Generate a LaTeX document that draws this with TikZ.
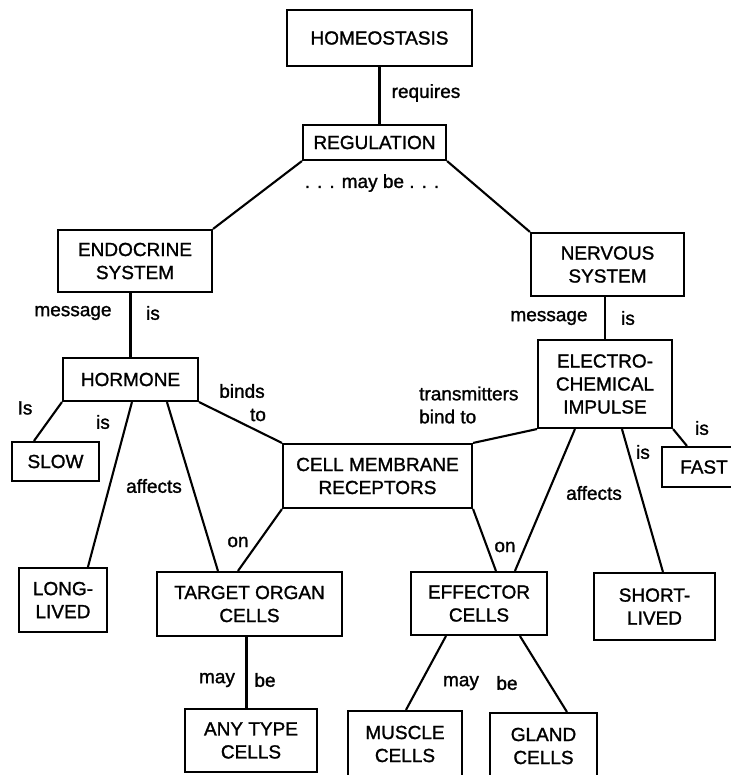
\documentclass[tikz,border=0pt]{standalone}
\usepackage{fontspec}
\newfontfamily\mapfont{Liberation Sans}[FakeBold=1.3]
\begin{document}
\begin{tikzpicture}[x=1pt,y=-1pt,
  concept/.style={draw, line width=2.1pt, inner sep=0pt, align=center,
    font=\mapfont\fontsize{19}{23}\selectfont},
  lbl/.style={inner sep=0pt, font=\mapfont\fontsize{19}{23}\selectfont},
  link/.style={line width=2.1pt}]
\useasboundingbox (0,0) rectangle (730,775);

% concept boxes
\node[concept, minimum width=185pt, minimum height=56pt] (homeo) at (379.5,38) {HOMEOSTASIS};
\node[concept, minimum width=143pt, minimum height=35pt] (reg) at (374.5,142.5) {REGULATION};
\node[concept, minimum width=154pt, minimum height=62pt] (endo) at (135,261) {ENDOCRINE\\SYSTEM};
\node[concept, minimum width=153pt, minimum height=63pt] (nerv) at (607.5,264.5) {NERVOUS\\SYSTEM};
\node[concept, minimum width=135pt, minimum height=43pt] (horm) at (130.5,379.5) {HORMONE};
\node[concept, minimum width=134pt, minimum height=88pt] (elec) at (605,384) {ELECTRO-\\CHEMICAL\\IMPULSE};
\node[concept, minimum width=87pt, minimum height=39pt] (slow) at (55.5,461.5) {SLOW};
\node[concept, minimum width=189pt, minimum height=64pt] (cell) at (377.5,476) {CELL MEMBRANE\\RECEPTORS};
\node[concept, minimum width=84pt, minimum height=40pt] (fast) at (704,467) {FAST};
\node[concept, minimum width=88pt, minimum height=64pt] (long) at (63,600) {LONG-\\LIVED};
\node[concept, minimum width=185pt, minimum height=64pt] (target) at (249.5,604) {TARGET ORGAN\\CELLS};
\node[concept, minimum width=136pt, minimum height=63pt] (effector) at (479,603.5) {EFFECTOR\\CELLS};
\node[concept, minimum width=121pt, minimum height=67pt] (short) at (654.5,606.5) {SHORT-\\LIVED};
\node[concept, minimum width=132pt, minimum height=63pt] (anytype) at (251,740.5) {ANY TYPE\\CELLS};
\node[concept, minimum width=114pt, minimum height=66pt] (muscle) at (405,744) {MUSCLE\\CELLS};
\node[concept, minimum width=107pt, minimum height=66pt] (gland) at (543.5,746) {GLAND\\CELLS};

% linking phrases
\node[lbl] (lreq) at (426,93) {requires};
\node[lbl] (lmay) at (372,183) {. . . may be . . .};
\node[lbl] (lmsg1) at (73,313) {message};
\node[lbl] (lis1) at (153,313) {is};
\node[lbl] (lmsg2) at (549,318) {message};
\node[lbl] (lis2) at (628,318) {is};
\node[lbl] (lis3) at (25,408) {Is};
\node[lbl] (lis4) at (103,422) {is};
\node[lbl] (lbinds) at (242,391) {binds};
\node[lbl] (lto) at (258,415) {to};
\node[lbl] (laff1) at (154,486) {affects};
\node[lbl, align=left, anchor=west] (ltrans) at (419,405) {transmitters\\bind to};
\node[lbl] (laff2) at (594,493) {affects};
\node[lbl] (lis5) at (643,452) {is};
\node[lbl] (lis6) at (702,428) {is};
\node[lbl] (lon1) at (238,542) {on};
\node[lbl] (lon2) at (505,547) {on};
\node[lbl] (lmay1) at (217,680) {may};
\node[lbl] (lbe1) at (265,680) {be};
\node[lbl] (lmay2) at (461,683) {may};
\node[lbl] (lbe2) at (507,683) {be};

% connectors
\draw[link] (homeo.south) -- (homeo.south |- reg.north);
\draw[link] (reg.south west) -- (endo.north east);
\draw[link] (reg.south east) -- (nerv.north west);
\draw[link] (horm.north) -- (horm.north |- endo.south);
\draw[link] (elec.north) -- (elec.north |- nerv.south);
\draw[link] (horm.south west) -- ([xshift=23pt]slow.north west);
\draw[link] ([xshift=70pt]horm.south west) -- ([xshift=70pt]long.north west);
\draw[link] ([xshift=105pt]horm.south west) -- ([xshift=62pt]target.north west);
\draw[link] (horm.south east) -- (cell.north west);
\draw[link] (elec.south west) -- (cell.north east);
\draw[link] ([xshift=38pt]elec.south west) -- ([xshift=105pt]effector.north west);
\draw[link] ([xshift=85pt]elec.south west) -- ([xshift=70pt]short.north west);
\draw[link] (elec.south east) -- ([xshift=26pt]fast.north west);
\draw[link] (cell.south west) -- ([xshift=82pt]target.north west);
\draw[link] (cell.south east) -- ([xshift=86pt]effector.north west);
\draw[link] ([xshift=-3pt]target.south) -- ([xshift=-3pt]target.south |- anytype.north);
\draw[link] ([xshift=36pt]effector.south west) -- ([xshift=59pt]muscle.north west);
\draw[link] ([xshift=110pt]effector.south west) -- ([xshift=78pt]gland.north west);
\end{tikzpicture}
\end{document}
